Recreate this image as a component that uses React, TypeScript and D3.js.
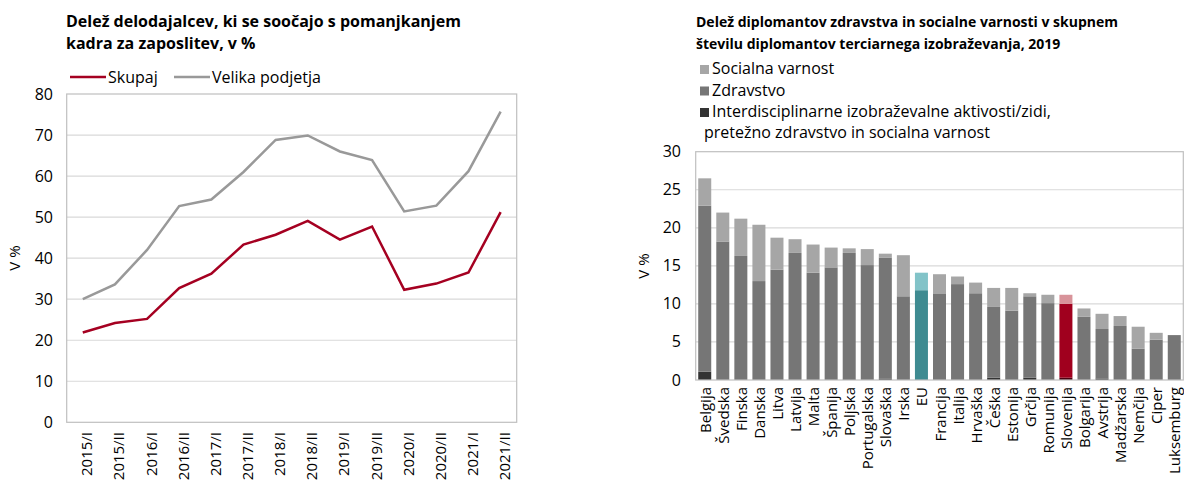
import { useEffect } from 'react';
import * as d3 from 'd3';

// levi graf: delež delodajalcev
const periods = ['2015/I', '2015/II', '2016/I', '2016/II', '2017/I', '2017/II', '2018/I', '2018/II', '2019/I', '2019/II', '2020/I', '2020/II', '2021/I', '2021/II'];
const skupaj = [21.9, 24.2, 25.2, 32.7, 36.2, 43.3, 45.7, 49.1, 44.5, 47.7, 32.3, 33.8, 36.5, 51.2];
const velika = [30.0, 33.6, 42.0, 52.7, 54.3, 61.0, 68.8, 69.9, 66.0, 63.9, 51.4, 52.8, 61.2, 75.7];
const leftTicks = [0, 10, 20, 30, 40, 50, 60, 70, 80];

// desni graf: diplomanti zdravstva in socialne varnosti
const countries = ['Belgija', 'Švedska', 'Finska', 'Danska', 'Litva', 'Latvija', 'Malta', 'Španija', 'Poljska', 'Portugalska', 'Slovaška', 'Irska', 'EU', 'Francija', 'Italija', 'Hrvaška', 'Češka', 'Estonija', 'Grčija', 'Romunija', 'Slovenija', 'Bolgarija', 'Avstrija', 'Madžarska', 'Nemčija', 'Ciper', 'Luksemburg'];
const interdisc = [1.1, 0, 0, 0, 0, 0, 0, 0, 0.1, 0, 0.2, 0, 0, 0, 0, 0, 0.3, 0, 0.3, 0, 0.3, 0, 0.2, 0, 0, 0, 0];
const zdravstvo = [21.8, 18.2, 16.3, 13.0, 14.5, 16.7, 14.1, 14.8, 16.6, 15.1, 15.9, 11.0, 11.8, 11.3, 12.6, 11.4, 9.3, 9.1, 10.7, 10.1, 9.7, 8.3, 6.5, 7.1, 4.1, 5.3, 5.9];
const socialna = [3.6, 3.8, 4.9, 7.4, 4.2, 1.8, 3.7, 2.6, 0.6, 2.1, 0.5, 5.4, 2.3, 2.6, 1.0, 1.4, 2.5, 3.0, 0.4, 1.1, 1.2, 1.1, 2.0, 1.3, 2.9, 0.9, 0];
const rightTicks = [0, 5, 10, 15, 20, 25, 30];

const FONT = "'Open Sans', sans-serif";
const RED = '#a50021';
const GRID = '#d9d9d9';
const FRAME = '#bfbfbf';

const segColors: Record<string, string[]> = {
  default: ['#333333', '#767676', '#a6a6a6'],
  EU: ['#2e6b70', '#3f8b91', '#82c3c8'],
  Slovenija: ['#4a0010', '#a0001e', '#d8939a'],
};

function LeftChart() {
  const x = d3.scaleBand<string>().domain(periods).range([66.7, 516.7]);
  const y = d3.scaleLinear().domain([0, 80]).range([422.3, 94]);
  const cx = (p: string) => (x(p) ?? 0) + x.bandwidth() / 2;
  const line = d3
    .line<number>()
    .x((_, i) => cx(periods[i]))
    .y((d) => y(d));

  return (
    <g fontFamily={FONT}>
      <text fontWeight={700} fontSize={16} fill="#000">
        <tspan x={66} y={27}>Delež delodajalcev, ki se soočajo s pomanjkanjem</tspan>
        <tspan x={66} y={49}>kadra za zaposlitev, v %</tspan>
      </text>

      {/* legenda */}
      <line x1={70} x2={106} y1={77} y2={77} stroke={RED} strokeWidth={2.5} />
      <text x={108} y={83} fontSize={16}>Skupaj</text>
      <line x1={174} x2={210} y1={77} y2={77} stroke="#999" strokeWidth={2.5} />
      <text x={212} y={83} fontSize={16}>Velika podjetja</text>

      {leftTicks.map((t) => (
        <g key={t}>
          {t > 0 && t < 80 && (
            <line x1={66.7} x2={516.7} y1={y(t)} y2={y(t)} stroke={GRID} strokeWidth={1.2} />
          )}
          <text x={53} y={y(t) + 5.5} textAnchor="end" fontSize={16}>
            {t}
          </text>
        </g>
      ))}
      <rect x={66.7} y={94} width={450} height={422.3 - 94} fill="none" stroke={FRAME} strokeWidth={1.2} />

      <text transform={`translate(20,258) rotate(-90)`} textAnchor="middle" fontSize={15}>
        V %
      </text>

      {periods.map((p) => (
        <text key={p} transform={`translate(${cx(p) + 9.5},432) rotate(-90)`} textAnchor="end" fontSize={15}>
          {p}
        </text>
      ))}

      <path d={line(velika) ?? ''} fill="none" stroke="#999" strokeWidth={2.5} />
      <path d={line(skupaj) ?? ''} fill="none" stroke={RED} strokeWidth={2.5} />
    </g>
  );
}

function RightChart() {
  const x = d3.scaleBand<string>().domain(countries).range([695.7, 1183.3]).paddingInner(0.28).paddingOuter(0.14);
  const y = d3.scaleLinear().domain([0, 30]).range([380, 151.7]);

  const rows = countries.map((c, i) => ({ c, interdisc: interdisc[i], zdravstvo: zdravstvo[i], socialna: socialna[i] }));
  const keys = ['interdisc', 'zdravstvo', 'socialna'];
  const series = d3.stack<any>().keys(keys)(rows);

  const legend = [
    { label: 'Socialna varnost', color: '#a6a6a6' },
    { label: 'Zdravstvo', color: '#767676' },
    { label: 'Interdisciplinarne izobraževalne aktivosti/zidi,', color: '#333333' },
  ];

  return (
    <g fontFamily={FONT}>
      <text fontWeight={700} fontSize={14} fill="#000">
        <tspan x={696} y={27}>Delež diplomantov zdravstva in socialne varnosti v skupnem</tspan>
        <tspan x={696} y={49}>številu diplomantov terciarnega izobraževanja, 2019</tspan>
      </text>

      {legend.map((l, i) => (
        <g key={l.label}>
          <rect x={700} y={65 + i * 21.5} width={9} height={9} fill={l.color} />
          <text x={712} y={74 + i * 21.5} fontSize={16}>
            {l.label}
          </text>
        </g>
      ))}
      <text x={704} y={138} fontSize={16}>pretežno zdravstvo in socialna varnost</text>

      {rightTicks.map((t) => (
        <g key={t}>
          {t > 0 && t < 30 && (
            <line x1={695.7} x2={1183.3} y1={y(t)} y2={y(t)} stroke={GRID} strokeWidth={1.2} />
          )}
          <text x={681} y={y(t) + 5.5} textAnchor="end" fontSize={16}>
            {t}
          </text>
        </g>
      ))}

      <text transform={`translate(649,266) rotate(-90)`} textAnchor="middle" fontSize={15}>
        V %
      </text>

      {series.map((s, si) =>
        s.map((d) => {
          const c = d.data.c as string;
          const cols = segColors[c] ?? segColors.default;
          const h = y(d[0]) - y(d[1]);
          if (h <= 0) return null;
          return (
            <rect
              key={`${si}-${c}`}
              x={x(c)}
              y={y(d[1])}
              width={x.bandwidth()}
              height={h}
              fill={cols[si]}
            />
          );
        })
      )}

      <rect x={695.7} y={151.7} width={1183.3 - 695.7} height={380 - 151.7} fill="none" stroke={FRAME} strokeWidth={1.2} />

      {countries.map((c) => (
        <text
          key={c}
          transform={`translate(${(x(c) ?? 0) + x.bandwidth() / 2 + 6},387) rotate(-90)`}
          textAnchor="end"
          fontSize={15}
        >
          {c}
        </text>
      ))}
    </g>
  );
}

export default function App() {
  useEffect(() => {
    document.body.style.margin = '0';
  }, []);

  return (
    <svg width={1184} height={482} style={{ display: 'block', background: '#fff' }}>
      <rect width={1184} height={482} fill="#fff" />
      <LeftChart />
      <RightChart />
    </svg>
  );
}
